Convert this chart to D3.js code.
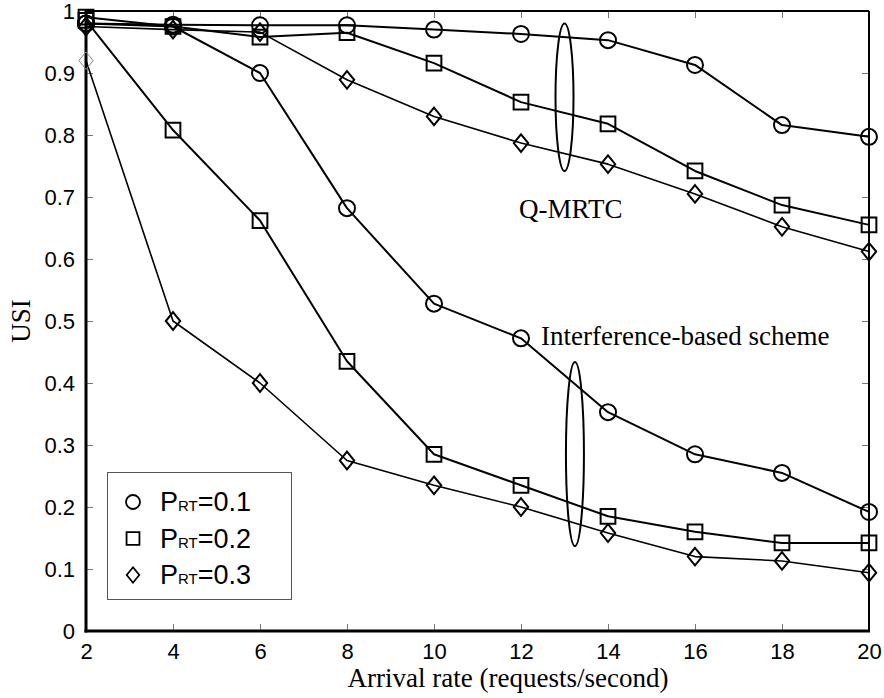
<!DOCTYPE html>
<html>
<head>
<meta charset="utf-8">
<script src="https://cdn.jsdelivr.net/npm/d3@7"></script>
<style>
  html, body { margin: 0; padding: 0; background: #fff; }
  svg { display: block; }
</style>
</head>
<body>
<svg id="chart" width="884" height="698"></svg>
<script>
// Arrival rates (requests/second)
const arrivalRates = [2, 4, 6, 8, 10, 12, 14, 16, 18, 20];

// USI of Q-MRTC for P_RT = 0.1, 0.2, 0.3
const qmrtc01 = [0.980, 0.978, 0.977, 0.977, 0.970, 0.963, 0.953, 0.913, 0.816, 0.797];
const qmrtc02 = [0.990, 0.975, 0.958, 0.965, 0.916, 0.853, 0.818, 0.742, 0.687, 0.655];
const qmrtc03 = [0.975, 0.970, 0.966, 0.889, 0.830, 0.787, 0.753, 0.705, 0.652, 0.612];

// USI of the interference-based scheme for P_RT = 0.1, 0.2, 0.3
const interf01 = [0.980, 0.975, 0.900, 0.682, 0.528, 0.472, 0.353, 0.285, 0.255, 0.192];
const interf02 = [0.985, 0.808, 0.662, 0.435, 0.285, 0.235, 0.185, 0.160, 0.142, 0.142];
const interf03 = [0.920, 0.500, 0.400, 0.275, 0.235, 0.200, 0.158, 0.120, 0.113, 0.094];

const xTicks = [2, 4, 6, 8, 10, 12, 14, 16, 18, 20];
const yTicks = [0, 0.1, 0.2, 0.3, 0.4, 0.5, 0.6, 0.7, 0.8, 0.9, 1];
const legendLabels = ["0.1", "0.2", "0.3"];

const series = [
  { values: qmrtc01, marker: "circle",  width: 2 },
  { values: qmrtc02, marker: "square",  width: 2 },
  { values: qmrtc03, marker: "diamond", width: 1.6 },
  { values: interf01, marker: "circle",  width: 2 },
  { values: interf02, marker: "square",  width: 2 },
  { values: interf03, marker: "diamond", width: 1.6 }
];

const margin = { left: 86, right: 15, top: 11, bottom: 67 };
const W = 884, H = 698;
const svg = d3.select("#chart");

const x = d3.scaleLinear().domain([2, 20]).range([margin.left, W - margin.right]);
const y = d3.scaleLinear().domain([0, 1]).range([H - margin.bottom, margin.top]);

const sansFont = "'Liberation Sans', Arial, sans-serif";
const serifFont = "'Liberation Serif', 'Times New Roman', serif";

// Marker path generators (hollow)
function markerPath(type, s) {
  const p = d3.path();
  if (type === "circle") {
    p.arc(0, 0, s, 0, 2 * Math.PI);
  } else if (type === "square") {
    const h = s * 0.92;
    p.rect(-h, -h, 2 * h, 2 * h);
  } else {
    const w = s * 0.9, h = s * 1.1;
    p.moveTo(0, -h); p.lineTo(w, 0); p.lineTo(0, h); p.lineTo(-w, 0); p.closePath();
  }
  return p.toString();
}

// Axes with inward ticks on all four sides
const tickLen = 7;
const axisBottom = d3.axisBottom(x).tickValues(xTicks).tickSize(-tickLen).tickPadding(12).tickFormat(d3.format("d"));
const axisTop = d3.axisTop(x).tickValues(xTicks).tickSize(-tickLen).tickFormat("");
const axisLeft = d3.axisLeft(y).tickValues(yTicks).tickSize(-tickLen).tickPadding(11)
  .tickFormat(d => d === 0 ? "0" : d === 1 ? "1" : d3.format(".1f")(d));
const axisRight = d3.axisRight(y).tickValues(yTicks).tickSize(-tickLen).tickFormat("");

function styleAxis(g) {
  g.select(".domain").remove();
  g.selectAll(".tick line").attr("stroke", "#777").attr("stroke-width", 1);
  g.selectAll(".tick text").attr("fill", "#000").style("font-family", sansFont).style("font-size", "22px");
}

svg.append("g").attr("transform", `translate(0,${y(0)})`).call(axisBottom).call(styleAxis);
svg.append("g").attr("transform", `translate(0,${y(1)})`).call(axisTop).call(styleAxis);
svg.append("g").attr("transform", `translate(${x(2)},0)`).call(axisLeft).call(styleAxis);
svg.append("g").attr("transform", `translate(${x(20)},0)`).call(axisRight).call(styleAxis);

// Plot frame
const frame = svg.append("g").attr("stroke", "#000").attr("fill", "none");
frame.append("line").attr("x1", x(2)).attr("x2", x(20)).attr("y1", y(1)).attr("y2", y(1)).attr("stroke-width", 2);
frame.append("line").attr("x1", x(20)).attr("x2", x(20)).attr("y1", y(1)).attr("y2", y(0)).attr("stroke-width", 2);
frame.append("line").attr("x1", x(2)).attr("x2", x(2)).attr("y1", y(1) - 1).attr("y2", y(0) + 1.5).attr("stroke-width", 3);
frame.append("line").attr("x1", x(2) - 1.5).attr("x2", x(20) + 1).attr("y1", y(0)).attr("y2", y(0)).attr("stroke-width", 3);

// Lines
const line = d3.line().x((d, i) => x(arrivalRates[i])).y(d => y(d));
const plot = svg.append("g");
series.forEach(s => {
  plot.append("path").datum(s.values).attr("d", line)
    .attr("fill", "none").attr("stroke", "#000").attr("stroke-width", s.width)
    .attr("stroke-linejoin", "round");
});

// Markers
series.forEach((s, si) => {
  plot.selectAll(null).data(s.values).join("path")
    .attr("transform", (d, i) => `translate(${x(arrivalRates[i])},${y(d)})`)
    .attr("d", markerPath(s.marker, 8))
    .attr("fill", "none")
    .attr("stroke", (d, i) => (si === 5 && i === 0) ? "#888" : "#000")
    .attr("stroke-width", (d, i) => (si === 5 && i === 0) ? 1 : 2);
});

// Group ellipses
const ann = svg.append("g").attr("fill", "none").attr("stroke", "#000").attr("stroke-width", 2);
ann.append("ellipse")
  .attr("cx", x(13.0)).attr("cy", y(0.861))
  .attr("rx", 9).attr("ry", y(0.742) - y(0.861));
ann.append("ellipse")
  .attr("cx", x(13.24)).attr("cy", y(0.2855))
  .attr("rx", 9).attr("ry", y(0.137) - y(0.2855));

// Group labels
svg.append("text").attr("x", 519).attr("y", 218)
  .style("font-family", serifFont).style("font-size", "27px").text("Q-MRTC");
svg.append("text").attr("x", 541).attr("y", 345)
  .style("font-family", serifFont).style("font-size", "27px").text("Interference-based scheme");

// Axis titles
svg.append("text").attr("x", 508).attr("y", 687).attr("text-anchor", "middle")
  .style("font-family", serifFont).style("font-size", "27px").text("Arrival rate (requests/second)");
svg.append("text").attr("transform", `translate(30,${y(0.5)}) rotate(-90)`).attr("text-anchor", "middle")
  .style("font-family", serifFont).style("font-size", "27px").text("USI");

// Legend
const legend = svg.append("g");
legend.append("rect").attr("x", 107.5).attr("y", 472.5).attr("width", 184).attr("height", 127)
  .attr("fill", "#fff").attr("stroke", "#555").attr("stroke-width", 1);
const legendMarkers = ["circle", "square", "diamond"];
legendLabels.forEach((lab, i) => {
  const cy = 502 + i * 36.5;
  legend.append("path").attr("transform", `translate(133,${cy})`)
    .attr("d", markerPath(legendMarkers[i], 7)).attr("fill", "none")
    .attr("stroke", "#000").attr("stroke-width", 1.8);
  const t = legend.append("text").attr("x", 160).attr("y", cy + 9)
    .style("font-family", sansFont).style("font-size", "27px");
  t.append("tspan").text("P");
  t.append("tspan").style("font-size", "15px").text("RT");
  t.append("tspan").text("=" + lab);
});
</script>
</body>
</html>
